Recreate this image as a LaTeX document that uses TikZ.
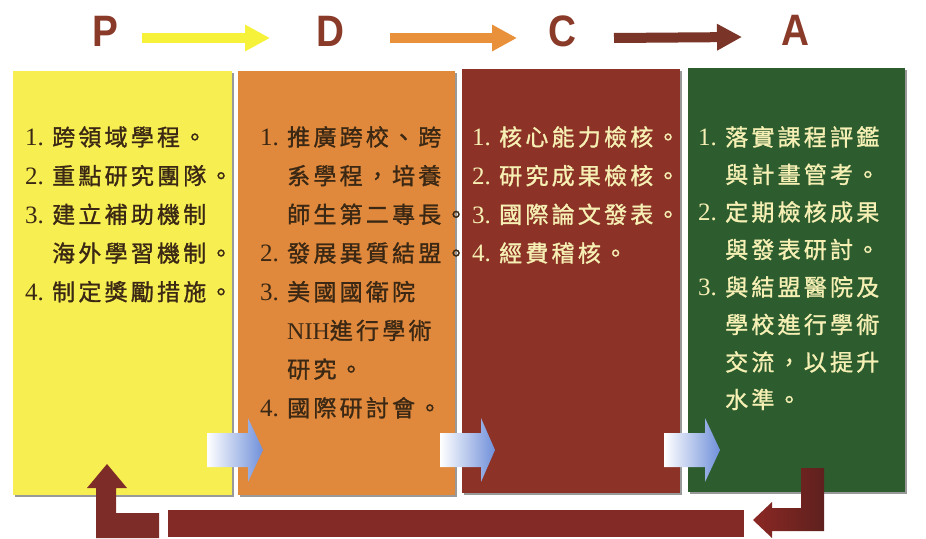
\documentclass[tikz,border=0pt]{standalone}
\usepackage{fontspec}
\setmainfont{Liberation Serif}
\newfontfamily\cjk[LetterSpace=14, FakeBold=1.2]{Noto Sans CJK TC}
\newfontfamily\numfont{Liberation Serif}
\newfontfamily\hdrfont{Liberation Sans}
\usetikzlibrary{shadows,calc,arrows.meta}
\definecolor{cYel}{HTML}{F7EE52}
\definecolor{cOra}{HTML}{E0883C}
\definecolor{cBro}{HTML}{8C3226}
\definecolor{cGre}{HTML}{2D5D2F}
\definecolor{cHdr}{HTML}{8A3A28}
\definecolor{aYel}{HTML}{F6F23A}
\definecolor{aOra}{HTML}{E8913A}
\definecolor{aBro}{HTML}{7A3428}
\definecolor{cRet}{HTML}{7E2C28}
\definecolor{tDark}{HTML}{3A2814}
\definecolor{tLight}{HTML}{F6F0B4}
\definecolor{cBlue}{HTML}{7090DA}
\newcommand{\nm}[1]{\makebox[27pt][l]{\numfont\fontsize{25}{25}\selectfont #1}}
\newcommand{\ind}{\hspace*{27pt}}
\begin{document}
\begin{tikzpicture}[x=1pt,y=-1pt,
  box/.style={anchor=north west, inner sep=0pt, outer sep=0pt,
    drop shadow={shadow xshift=1.5pt, shadow yshift=-1.5pt, fill=black!40, opacity=1}},
  hdr/.style={inner sep=0pt, text=cHdr, font=\hdrfont\bfseries\fontsize{44}{44}\selectfont, xscale=0.88},
  txt/.style={anchor=north west, inner sep=0pt, align=left,
    font=\cjk\fontsize{23}{38.7}\selectfont},
  harrow/.style={line width=10pt, -{Triangle[length=25pt,width=25pt]}},
  blue/.style={left color=white, right color=cBlue}
]
\useasboundingbox (0,0) rectangle (926,538);

% header letters
\node[hdr] (P) at (105,31) {P};
\node[hdr] (D) at (330,31) {D};
\node[hdr] (C) at (562,31) {C};
\node[hdr] (A) at (795,30) {A};

\draw[harrow, aYel] ($(P.center)+(37,7)$) -- ($(D.center)+(-60,7)$);
\draw[harrow, aOra] ($(D.center)+(60,7)$) -- ($(C.center)+(-45,7)$);
\draw[harrow, aBro] ($(C.center)+(52,7)$) -- ($(A.center)+(-53,7)$);

% boxes
\node[box, fill=cYel, minimum width=219pt, minimum height=424pt] (bP) at (13,71) {};
\node[box, fill=cOra, minimum width=217pt, minimum height=424pt] (bD) at (238,71) {};
\node[box, fill=cBro, minimum width=218pt, minimum height=424pt] (bC) at (462,69) {};
\node[box, fill=cGre, minimum width=217pt, minimum height=424pt] (bA) at (688,68) {};

% texts
\node[txt, text=tDark] (tP) at (25,126) {%
\nm{1.}跨領域學程。\\
\nm{2.}重點研究團隊。\\
\nm{3.}建立補助機制\\
\ind 海外學習機制。\\
\nm{4.}制定獎勵措施。};
\node[txt, text=tDark] (tD) at (260,126) {%
\nm{1.}推廣跨校、跨\\
\ind 系學程，培養\\
\ind 師生第二專長。\\
\nm{2.}發展異質結盟。\\
\nm{3.}美國國衛院\\
\ind {\numfont\fontsize{24}{24}\selectfont NIH}進行學術\\
\ind 研究。\\
\nm{4.}國際研討會。};
\node[txt, text=tLight] (tC) at (472,126) {%
\nm{1.}核心能力檢核。\\
\nm{2.}研究成果檢核。\\
\nm{3.}國際論文發表。\\
\nm{4.}經費稽核。};
\node[txt, text=tLight, font=\cjk\fontsize{23}{37.5}\selectfont] (tA) at (698,126) {%
\nm{1.}落實課程評鑑\\
\ind 與計畫管考。\\
\nm{2.}定期檢核成果\\
\ind 與發表研討。\\
\nm{3.}與結盟醫院及\\
\ind 學校進行學術\\
\ind 交流，以提升\\
\ind 水準。};

% blue block arrows
\shade[blue] (207,433) -- (248,433) -- (248,418) -- (263,450) -- (248,482) -- (248,467) -- (207,467) -- cycle;
\shade[blue] (440,433) -- (481,433) -- (481,418) -- (495,450) -- (481,482) -- (481,467) -- (440,467) -- cycle;
\shade[blue] (664,433) -- (705,433) -- (705,418) -- (720,450) -- (705,482) -- (705,467) -- (664,467) -- cycle;

% return arrow
\shade[left color=cRet!90!red, right color=cRet!75!black]
  (824,468) -- (824,531) -- (772,531) -- (772,538) -- (753,520) -- (772,502) -- (772,508) -- (801,508) -- (801,468) -- cycle;
\fill[cRet!95!red] (168,510) rectangle (744,537);
\fill[cRet] (107,464) -- (127,488) -- (116,488) -- (116,513) -- (159,513) -- (159,538) -- (96,538) -- (96,488) -- (87,488) -- cycle;
\end{tikzpicture}
\end{document}
